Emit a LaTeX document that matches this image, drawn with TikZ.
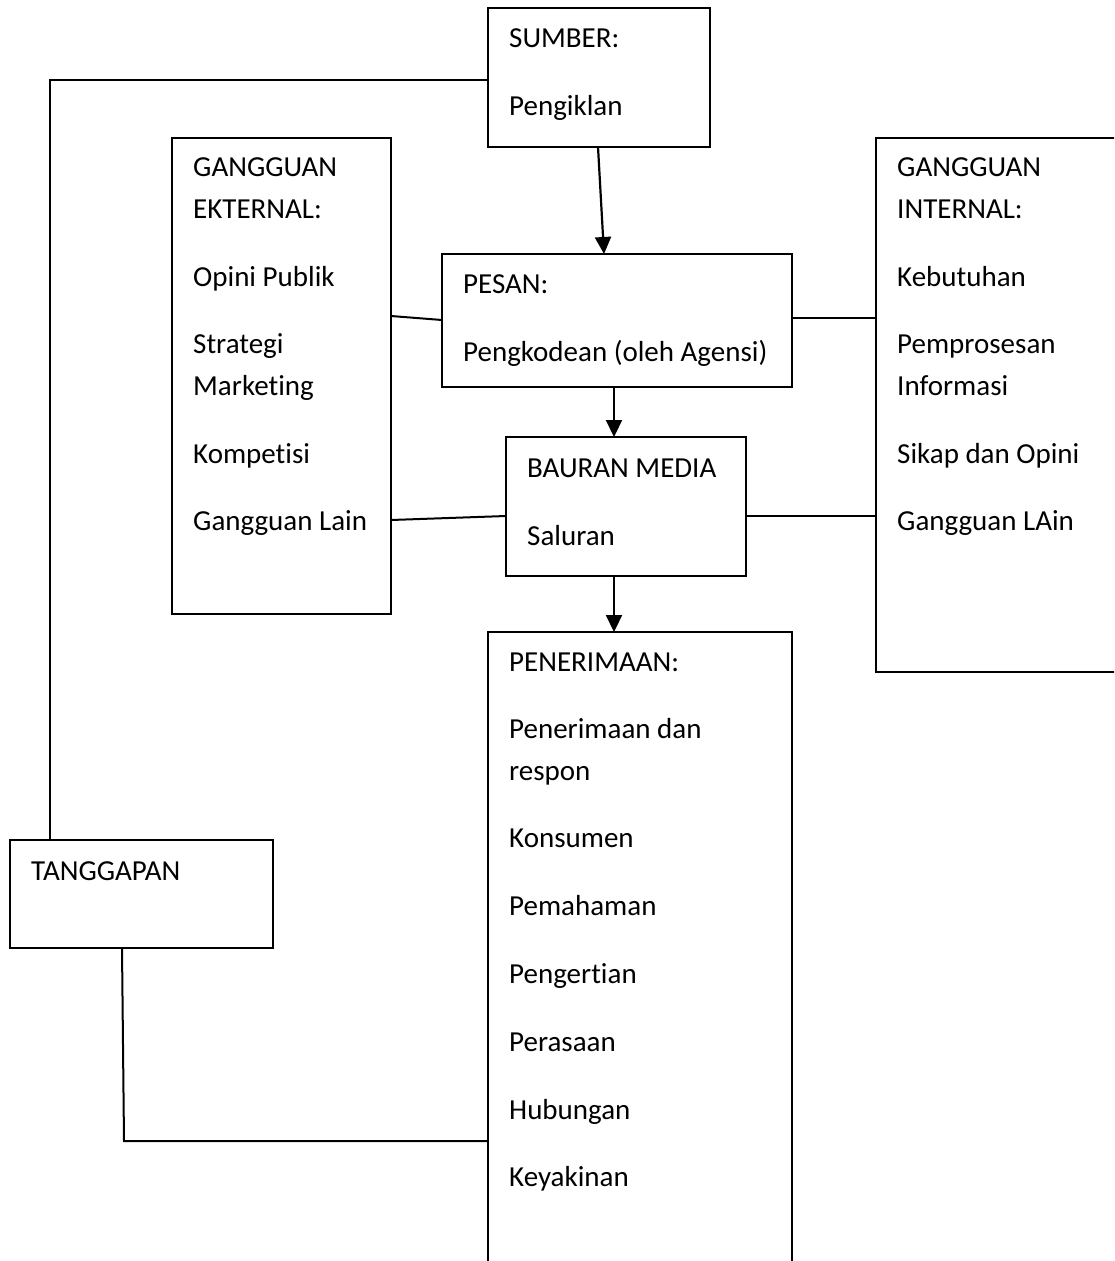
\documentclass[tikz,border=0pt]{standalone}
\usepackage{fontspec}
\setmainfont{Carlito}[Ligatures={NoCommon,NoContextual}]
\usetikzlibrary{arrows.meta,calc}
\tikzset{
  box/.style={draw, line width=2.2pt, inner sep=0pt, outer sep=0pt},
  txt/.style={anchor=base west, inner sep=0pt, font=\fontsize{29}{35}\selectfont},
  conn/.style={line width=2pt},
  arr/.style={line width=2.2pt, -{Triangle[width=16pt,length=17pt]}}
}
\begin{document}
\begin{tikzpicture}[x=1pt,y=-1pt]
\useasboundingbox (0,0) rectangle (1114,1261);
\fill[white] (0,0) rectangle (1114,1261);
\clip (0,0) rectangle (1114,1261);
% boxes
\node[box, minimum width=222, minimum height=139] (sumber) at (599,77.5) {};
\node[box, minimum width=350, minimum height=133] (pesan) at (617,320.5) {};
\node[box, minimum width=240, minimum height=139] (bauran) at (626,506.5) {};
\node[box, minimum width=304, minimum height=668] (penerimaan) at (640,966) {};
\node[box, minimum width=219, minimum height=476] (eksternal) at (281.5,376) {};
\node[box, minimum width=264, minimum height=534] (internal) at (1008,405) {};
\node[box, minimum width=263, minimum height=108] (tanggapan) at (141.5,894) {};
% texts
\node[txt] (t1) at (509,47) {SUMBER:};
\node[txt] (t2) at (509,115) {Pengiklan};
\node[txt] (t3) at (463,293) {PESAN:};
\node[txt] (t4) at (463,361) {Pengkodean (oleh Agensi)};
\node[txt] (t5) at (527,477) {BAURAN MEDIA};
\node[txt] (t6) at (527,545) {Saluran};
\node[txt] (t7) at (509,671) {PENERIMAAN:};
\node[txt] (t8) at (509,738) {Penerimaan dan};
\node[txt] (t9) at (509,780) {respon};
\node[txt] (t10) at (509,847) {Konsumen};
\node[txt] (t11) at (509,915) {Pemahaman};
\node[txt] (t12) at (509,983) {Pengertian};
\node[txt] (t13) at (509,1051) {Perasaan};
\node[txt] (t14) at (509,1119) {Hubungan};
\node[txt] (t15) at (509,1186) {Keyakinan};
\node[txt] (e1) at (193,176) {GANGGUAN};
\node[txt] (e2) at (193,218) {EKTERNAL:};
\node[txt] (e3) at (193,286) {Opini Publik};
\node[txt] (e4) at (193,353) {Strategi};
\node[txt] (e5) at (193,395) {Marketing};
\node[txt] (e6) at (193,463) {Kompetisi};
\node[txt] (e7) at (193,530) {Gangguan Lain};
\node[txt] (i1) at (897,176) {GANGGUAN};
\node[txt] (i2) at (897,218) {INTERNAL:};
\node[txt] (i3) at (897,286) {Kebutuhan};
\node[txt] (i4) at (897,353) {Pemprosesan};
\node[txt] (i5) at (897,395) {Informasi};
\node[txt] (i6) at (897,463) {Sikap dan Opini};
\node[txt] (i7) at (897,530) {Gangguan LAin};
\node[txt] (g1) at (31,880) {TANGGAPAN};
% connectors
\draw[arr] ([xshift=-1pt]sumber.south) -- ([xshift=-13pt]pesan.north);
\draw[arr] ([xshift=-3pt]pesan.south) -- ([xshift=-3pt]pesan.south |- bauran.north);
\draw[arr] ([xshift=-12pt]bauran.south) -- ([xshift=-12pt]bauran.south |- penerimaan.north);
\draw[conn] (eksternal.east |- 0,316) -- (pesan.west |- 0,320);
\draw[conn] (eksternal.east |- 0,520) -- (bauran.west |- 0,516);
\draw[conn] (pesan.east |- 0,318) -- (internal.west |- 0,318);
\draw[conn] (bauran.east |- 0,516) -- (internal.west |- 0,516);
\draw[conn] ([yshift=-2.5pt]sumber.west) -| ([xshift=40pt]tanggapan.north west);
\coordinate (fb) at (124,1141);
\draw[conn] ([xshift=112pt]tanggapan.south west) -- (fb) -- (fb -| penerimaan.west);
\end{tikzpicture}
\end{document}
